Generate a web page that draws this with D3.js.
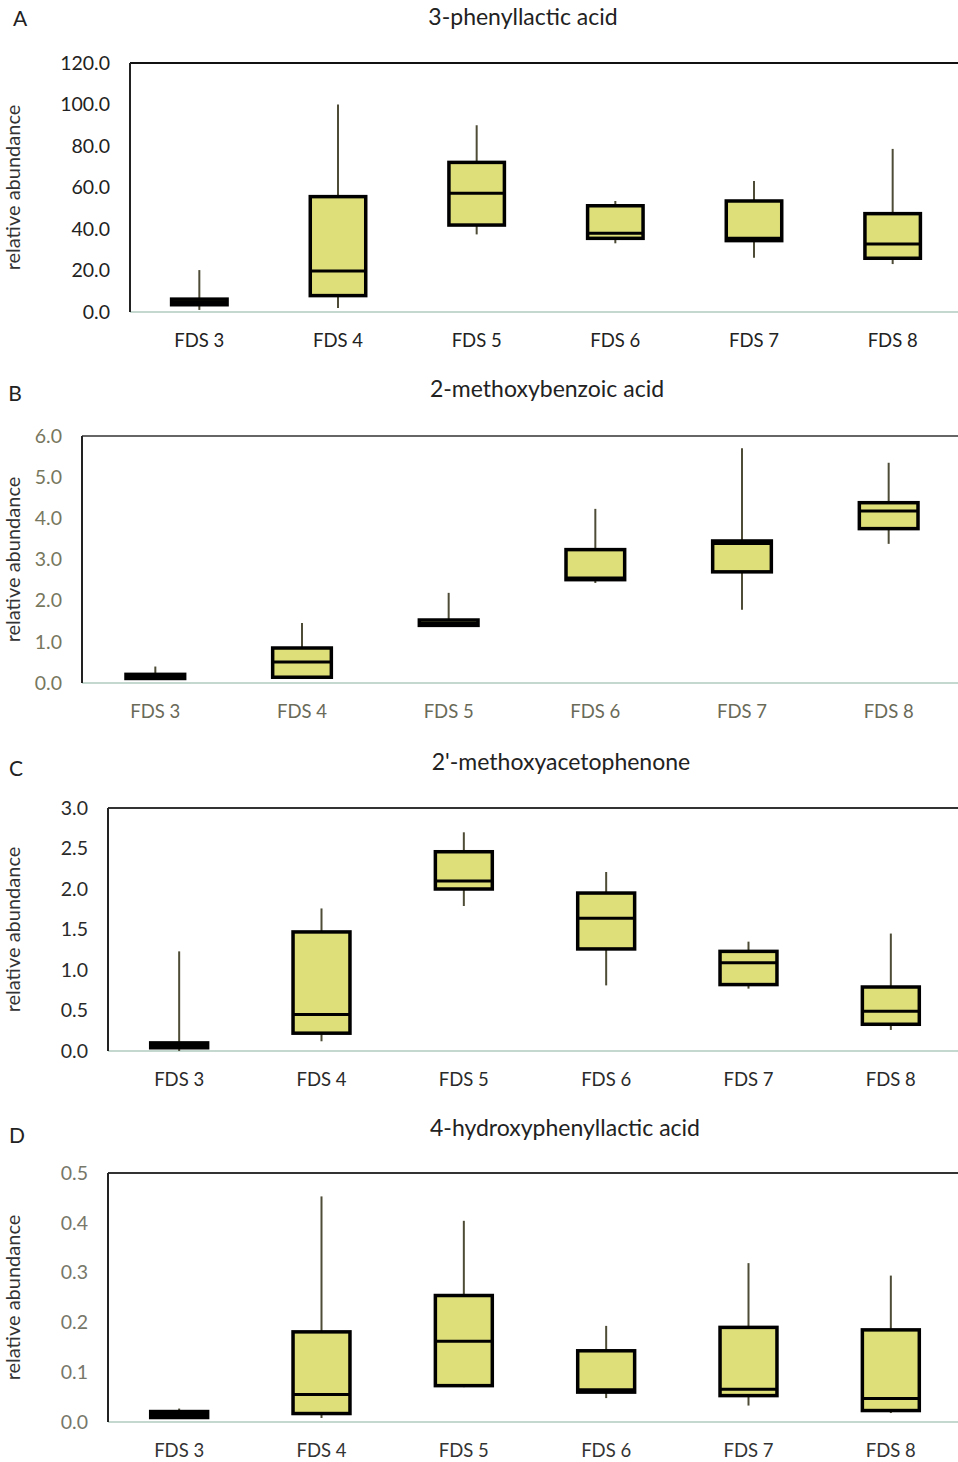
<!DOCTYPE html>
<html>
<head>
<meta charset="utf-8">
<script src="https://cdn.jsdelivr.net/npm/d3@7"></script>
<style>
  body { margin: 0; background: #fff; }
  svg { display: block; font-family: Lato, "Open Sans", sans-serif; }
</style>
</head>
<body>
<svg id="chart" width="958" height="1462"></svg>
<script>
// gruppi sull'asse x
const categories = ["FDS 3", "FDS 4", "FDS 5", "FDS 6", "FDS 7", "FDS 8"];

// valori: [min, q1, mediana, q3, max] per ogni gruppo
const phenyllactic = [
  [1.0, 3.5, 5.0, 6.2, 20.2],
  [1.9, 7.9, 19.8, 55.6, 100.0],
  [37.4, 41.9, 57.2, 72.1, 90.0],
  [33.1, 35.5, 37.9, 51.2, 53.5],
  [26.2, 34.4, 35.5, 53.5, 63.1],
  [23.1, 25.9, 32.8, 47.4, 78.6],
];
const methoxybenzoic = [
  [0.1, 0.11, 0.16, 0.21, 0.4],
  [0.1, 0.14, 0.51, 0.85, 1.46],
  [1.36, 1.4, 1.45, 1.53, 2.19],
  [2.43, 2.51, 2.55, 3.24, 4.23],
  [1.78, 2.7, 3.39, 3.45, 5.7],
  [3.38, 3.75, 4.18, 4.38, 5.35],
];
const methoxyacetophenone = [
  [0.0, 0.04, 0.07, 0.1, 1.23],
  [0.12, 0.22, 0.45, 1.47, 1.76],
  [1.79, 2.0, 2.1, 2.46, 2.7],
  [0.81, 1.26, 1.64, 1.95, 2.21],
  [0.77, 0.82, 1.09, 1.23, 1.35],
  [0.26, 0.33, 0.49, 0.79, 1.45],
];
const hydroxyphenyllactic = [
  [0.008, 0.009, 0.015, 0.021, 0.027],
  [0.008, 0.017, 0.055, 0.181, 0.453],
  [0.07, 0.073, 0.162, 0.254, 0.404],
  [0.048, 0.06, 0.065, 0.143, 0.193],
  [0.033, 0.053, 0.066, 0.19, 0.319],
  [0.018, 0.023, 0.047, 0.185, 0.294],
];

// titoli e assi y
const titles = ["3-phenyllactic acid", "2-methoxybenzoic acid", "2'-methoxyacetophenone", "4-hydroxyphenyllactic acid"];
const letters = ["A", "B", "C", "D"];
const yMax = [120, 6, 3, 0.5];
const yStep = [20, 1, 0.5, 0.1];

// posizione dei pannelli
const panels = [
  { data: phenyllactic, left: 130, top: 63, bottom: 312, titleX: 523, titleY: 19, letterX: 20, letterY: 21, tickColor: "#222", labelColor: "#222", topColor: "#111" },
  { data: methoxybenzoic, left: 82, top: 436, bottom: 683, titleX: 547, titleY: 391, letterX: 15, letterY: 396, tickColor: "#77775e", labelColor: "#6a6a58", topColor: "#666" },
  { data: methoxyacetophenone, left: 108, top: 808, bottom: 1051, titleX: 561, titleY: 764, letterX: 16, letterY: 771, tickColor: "#2a2a2a", labelColor: "#2a2a2a", topColor: "#333" },
  { data: hydroxyphenyllactic, left: 108, top: 1173, bottom: 1422, titleX: 565, titleY: 1130, letterX: 17, letterY: 1138, tickColor: "#77776a", labelColor: "#333", topColor: "#333" },
];

const svg = d3.select("#chart");
const right = 962;

panels.forEach((p, i) => {
  const g = svg.append("g");

  const x = d3.scaleBand().domain(categories).range([p.left, right]);
  const y = d3.scaleLinear().domain([0, yMax[i]]).range([p.bottom, p.top]);

  // lettera e titolo
  g.append("text")
    .attr("x", p.letterX).attr("y", p.letterY)
    .attr("text-anchor", "middle").attr("dominant-baseline", "middle")
    .style("font-size", "21px").style("fill", "#222")
    .text(letters[i]);

  g.append("text")
    .attr("x", p.titleX).attr("y", p.titleY)
    .attr("text-anchor", "middle").attr("dominant-baseline", "middle")
    .style("font-size", "23px").style("fill", "#222")
    .text(titles[i]);

  // etichetta asse y
  g.append("text")
    .attr("transform", `translate(15,${(p.top + p.bottom) / 2}) rotate(-90)`)
    .attr("text-anchor", "middle").attr("dominant-baseline", "middle")
    .style("font-size", "20px").style("fill", "#333")
    .text("relative abundance");

  // asse y
  const ticks = d3.range(0, yMax[i] + yStep[i] / 2, yStep[i]);
  const yAxis = g.append("g")
    .attr("transform", `translate(${p.left},0)`)
    .call(d3.axisLeft(y).tickValues(ticks).tickFormat(d3.format(".1f")).tickSize(0).tickPadding(20));
  yAxis.select(".domain").remove();
  yAxis.selectAll("text")
    .style("font-size", "19.5px").style("font-family", "Lato, sans-serif")
    .style("fill", p.tickColor);

  // asse x
  const xAxis = g.append("g")
    .attr("transform", `translate(0,${p.bottom})`)
    .call(d3.axisBottom(x).tickSize(0).tickPadding(22));
  xAxis.select(".domain").remove();
  xAxis.selectAll("text")
    .style("font-size", "18.5px").style("font-family", "Lato, sans-serif")
    .style("fill", p.labelColor);

  // cornice: sinistra e sopra scure, base chiara
  g.append("line")
    .attr("x1", p.left).attr("x2", right).attr("y1", p.bottom).attr("y2", p.bottom)
    .style("stroke", "#c4d8d0").style("stroke-width", 2);
  g.append("line")
    .attr("x1", p.left).attr("x2", right).attr("y1", p.top).attr("y2", p.top)
    .style("stroke", p.topColor).style("stroke-width", 2);
  g.append("line")
    .attr("x1", p.left).attr("x2", p.left).attr("y1", p.top).attr("y2", p.bottom)
    .style("stroke", "#222").style("stroke-width", 2);

  const boxW = x.bandwidth() * 0.4;

  const box = g.selectAll(".box")
    .data(p.data.map((d, k) => ({ cat: categories[k], v: d })))
    .enter().append("g")
    .attr("class", "box");

  // baffi
  box.append("line")
    .attr("x1", (d) => x(d.cat) + x.bandwidth() / 2)
    .attr("x2", (d) => x(d.cat) + x.bandwidth() / 2)
    .attr("y1", (d) => y(d.v[0]))
    .attr("y2", (d) => y(d.v[4]))
    .style("stroke", "#4e4c36").style("stroke-width", 2);

  // scatola
  box.append("rect")
    .attr("x", (d) => x(d.cat) + (x.bandwidth() - boxW) / 2)
    .attr("width", boxW)
    .attr("y", (d) => y(d.v[3]))
    .attr("height", (d) => Math.max(y(d.v[1]) - y(d.v[3]), 0.5))
    .style("fill", "#dfdf7a").style("stroke", "#000").style("stroke-width", 3.5);

  // mediana
  box.append("line")
    .attr("x1", (d) => x(d.cat) + (x.bandwidth() - boxW) / 2)
    .attr("x2", (d) => x(d.cat) + (x.bandwidth() + boxW) / 2)
    .attr("y1", (d) => y(d.v[2]))
    .attr("y2", (d) => y(d.v[2]))
    .style("stroke", "#000").style("stroke-width", 3);
});
</script>
</body>
</html>
